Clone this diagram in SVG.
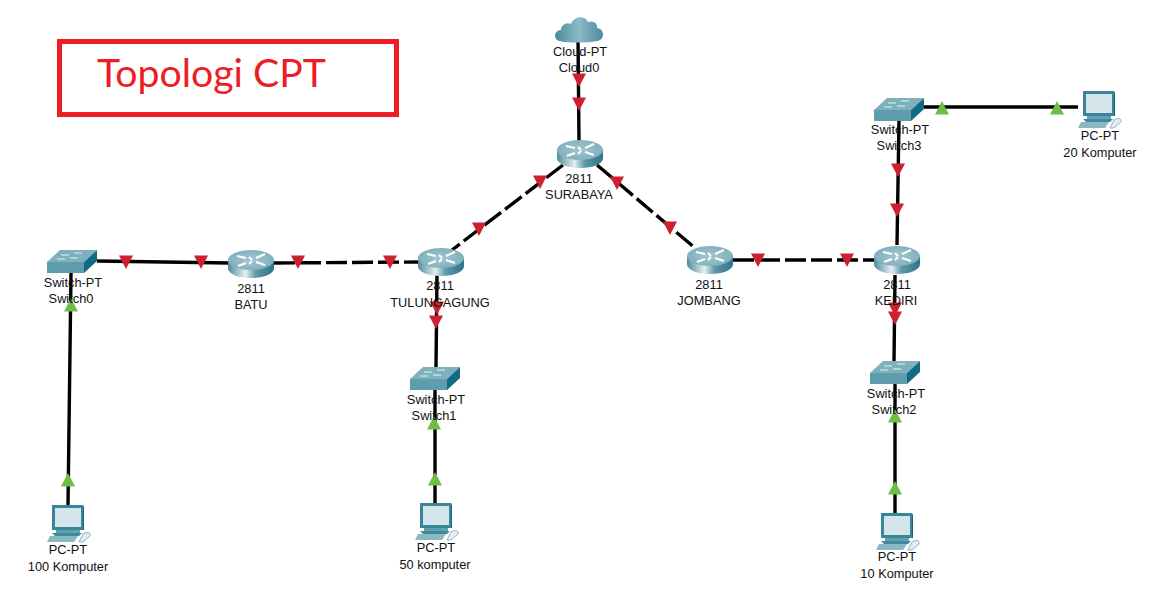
<svg xmlns="http://www.w3.org/2000/svg" xmlns:xlink="http://www.w3.org/1999/xlink" width="1151" height="590" viewBox="0 0 1151 590">
<style>
text{font-family:"Liberation Sans",Arial,sans-serif;font-size:12.800px;fill:#111;text-anchor:middle}
.title{font-family:Lato,"Open Sans",sans-serif;font-size:38px;fill:#ee1c25;text-anchor:start}
.frame{fill:#fff;stroke:#ee1c25;stroke-width:5}
.l{fill:none;stroke:#000;stroke-width:3.400}
.d{stroke-dasharray:21 5}
.r{fill:#cf2031}
.g{fill:#6fbd45}
</style>
<defs>
<linearGradient id="rg" x1="0" x2="1" y1="0" y2="0">
<stop offset="0" stop-color="#4f8c9c"/><stop offset=".38" stop-color="#e2eff2"/><stop offset=".6" stop-color="#5f99a8"/><stop offset="1" stop-color="#2f7385"/>
</linearGradient>
<radialGradient id="rt" cx=".5" cy=".5" r=".6"><stop offset="0" stop-color="#a3c6d0"/><stop offset="1" stop-color="#7aadba"/></radialGradient>
<linearGradient id="cg" x1="0" x2="1" y1="0" y2="0">
<stop offset="0" stop-color="#4a8a9e"/><stop offset=".5" stop-color="#8dbac6"/><stop offset="1" stop-color="#4a8a9e"/>
</linearGradient>
<g id="router">
<path d="M0 10V18C0 24 10 28 23 28S46 24 46 18V10Z" fill="url(#rg)"/>
<ellipse cx="23" cy="10" rx="23" ry="10" fill="url(#rt)"/>
<path d="M9 6l9 2M18 13l-8 3M37 4l-9 4M28 12l9 3M21 7l3 3M24 11l-3 3" stroke="#fff" stroke-width="2" fill="none"/>
</g>
<g id="switch">
<path d="M0 12L13 0H50L37 12Z" fill="#7fb0bd"/>
<path d="M0 12H37V23H0Z" fill="#5f9cac"/>
<path d="M37 12L50 0V11L37 23Z" fill="#0f6c84"/>
<path d="M14 5H22M27 3H35M10 9H18M23 8H31" stroke="#e4f0f3" stroke-width="1.200" fill="none"/>
</g>
<g id="pc">
<path d="M5 0H36V25H5Z" fill="#3a8699"/>
<path d="M36 0L37 2V25H36Z" fill="#1b6378"/>
<rect x="8" y="3" width="26" height="19" fill="#d3e4ea"/>
<path d="M9 25H33V28H9Z" fill="#60a0b0"/>
<path d="M5 28H35L32 31H8Z" fill="#3e8ba0"/>
<path d="M3 31H31L27 37H0Z" fill="#8cb7c3"/>
<path d="M36 29C41 26 44 28 43 31L36 37H32Z" fill="#e4eef1" stroke="#7aa5b2" stroke-width=".8"/>
</g>
<g id="cloud">
<path d="M4 26C-2 24-1 15 6 15C6 9 13 7 16 9C19 1 30 0 33 7C39 5 43 9 42 13C50 14 50 25 42 26C34 28 12 28 4 26Z" fill="url(#cg)"/>
</g>
<path id="down" d="M-7 -6.500H7L0 7Z"/>
<path id="up" d="M-7 6.500H7L0 -7Z"/>
</defs>
<rect width="1151" height="590" fill="#fff"/>
<g id="title">
<rect class="frame" x="59.500" y="41.500" width="337" height="73"/>
<text class="title" x="97" y="87" textLength="229" lengthAdjust="spacingAndGlyphs">Topologi CPT</text>
</g>
<g id="connectors">
<path class="l" d="M578 38L579 142"/>
<path class="l d" d="M563 165L452 250"/>
<path class="l d" d="M597 165L695 248"/>
<path class="l d" d="M274 263L420 262"/>
<path class="l" d="M97 261L230 263"/>
<path class="l d" d="M733 260L875 260"/>
<path class="l" d="M899 120L897 245"/>
<path class="l" d="M895 275L894 362"/>
<path class="l" d="M437 275L436 367"/>
<path class="l" d="M71 273L68 505"/>
<path class="l" d="M435 390V503"/>
<path class="l" d="M895 384V513"/>
<path class="l" d="M923 107H1078"/>
<g class="r">
<use href="#down" x="579" y="80"/><use href="#down" x="579" y="104"/>
<use href="#down" x="540" y="182"/><use href="#down" x="479" y="229"/>
<use href="#down" x="617" y="183"/><use href="#down" x="670" y="228"/>
<use href="#down" x="298" y="262"/><use href="#down" x="390" y="262"/>
<use href="#down" x="126" y="262"/><use href="#down" x="201" y="262"/>
<use href="#down" x="758" y="260"/><use href="#down" x="847" y="260"/>
<use href="#down" x="898" y="170"/><use href="#down" x="897" y="210"/>
<use href="#down" x="895" y="309"/><use href="#down" x="895" y="318"/>
<use href="#down" x="437" y="308"/><use href="#down" x="436" y="322"/>
</g>
<g class="g">
<use href="#up" x="71" y="305"/><use href="#up" x="68" y="480"/>
<use href="#up" x="434" y="423"/><use href="#up" x="435" y="479"/>
<use href="#up" x="895" y="416"/><use href="#up" x="895" y="488"/>
<use href="#up" x="942" y="108"/><use href="#up" x="1057" y="108"/>
</g>
</g>
<g id="Cloud0"><use href="#cloud" x="555" y="15"/><text x="580" y="56">Cloud-PT</text><text x="579" y="72">Cloud0</text></g>
<g id="SURABAYA"><use href="#router" x="557" y="140"/><text x="579" y="183">2811</text><text x="579" y="199">SURABAYA</text></g>
<g id="BATU"><use href="#router" x="228" y="250"/><text x="251" y="293">2811</text><text x="251" y="309">BATU</text></g>
<g id="TULUNGAGUNG"><use href="#router" x="418" y="248"/><text x="440" y="290">2811</text><text x="440" y="307">TULUNGAGUNG</text></g>
<g id="JOMBANG"><use href="#router" x="687" y="246"/><text x="709" y="289">2811</text><text x="709" y="305">JOMBANG</text></g>
<g id="KEDIRI"><use href="#router" x="874" y="246"/><text x="897" y="289">2811</text><text x="896" y="305">KEDIRI</text></g>
<g id="Switch0"><use href="#switch" x="47" y="250"/><text x="73" y="287">Switch-PT</text><text x="71" y="303">Switch0</text></g>
<g id="Switch1"><use href="#switch" x="410" y="367"/><text x="436" y="404">Switch-PT</text><text x="434" y="420">Switch1</text></g>
<g id="Switch2"><use href="#switch" x="870" y="361"/><text x="896" y="398">Switch-PT</text><text x="894" y="414">Switch2</text></g>
<g id="Switch3"><use href="#switch" x="874" y="98"/><text x="900" y="134">Switch-PT</text><text x="899" y="150">Switch3</text></g>
<g id="PC100"><use href="#pc" x="47" y="505"/><text x="68" y="554">PC-PT</text><text x="68" y="571">100 Komputer</text></g>
<g id="PC50"><use href="#pc" x="415" y="503"/><text x="436" y="552">PC-PT</text><text x="435" y="569">50 komputer</text></g>
<g id="PC10"><use href="#pc" x="876" y="513"/><text x="897" y="561">PC-PT</text><text x="897" y="578">10 Komputer</text></g>
<g id="PC20"><use href="#pc" x="1078" y="91"/><text x="1100" y="140">PC-PT</text><text x="1100" y="157">20 Komputer</text></g>
</svg>
